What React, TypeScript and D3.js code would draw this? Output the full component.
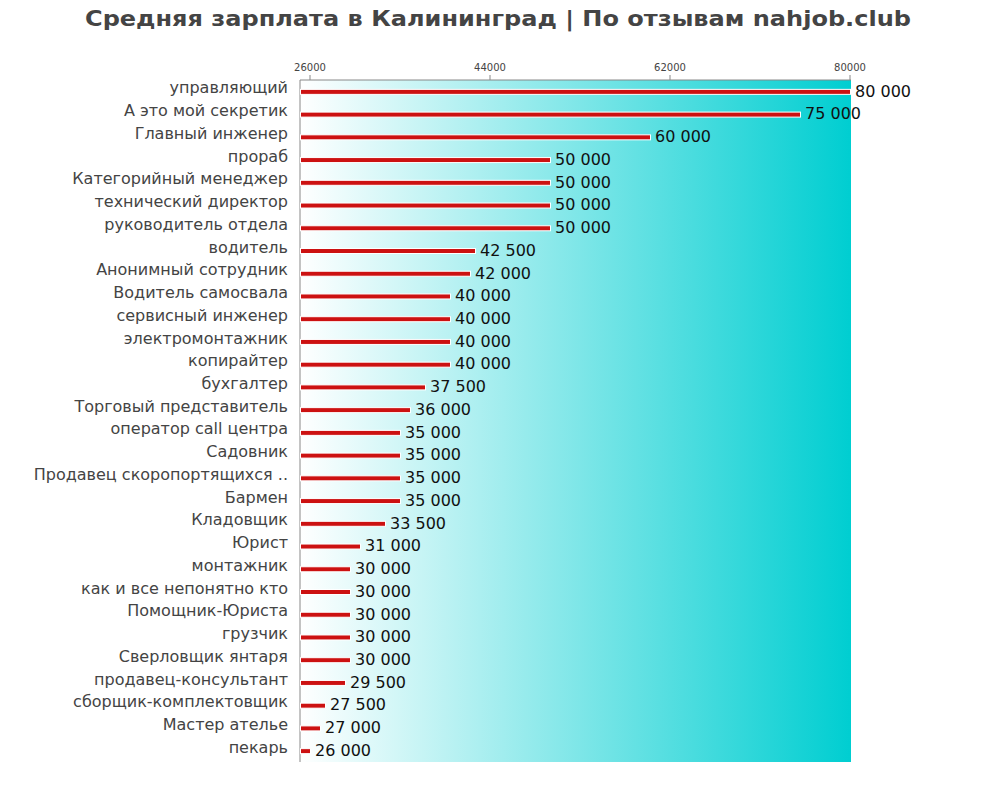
import React from "react";
import * as d3 from "d3";

const jobs = [
  "управляющий",
  "А это мой секретик",
  "Главный инженер",
  "прораб",
  "Категорийный менеджер",
  "технический директор",
  "руководитель отдела",
  "водитель",
  "Анонимный сотрудник",
  "Водитель самосвала",
  "сервисный инженер",
  "электромонтажник",
  "копирайтер",
  "бухгалтер",
  "Торговый представитель",
  "оператор call центра",
  "Садовник",
  "Продавец скоропортящихся ..",
  "Бармен",
  "Кладовщик",
  "Юрист",
  "монтажник",
  "как и все непонятно кто",
  "Помощник-Юриста",
  "грузчик",
  "Сверловщик янтаря",
  "продавец-консультант",
  "сборщик-комплектовщик",
  "Мастер ателье",
  "пекарь",
];

const salaries = [
  80000, 75000, 60000, 50000, 50000, 50000, 50000, 42500, 42000, 40000, 40000,
  40000, 40000, 37500, 36000, 35000, 35000, 35000, 35000, 33500, 31000, 30000,
  30000, 30000, 30000, 30000, 29500, 27500, 27000, 26000,
];

const xTicks = [26000, 44000, 62000, 80000];

const title = "Средняя зарплата в Калининград | По отзывам nahjob.club";

const W = 1000;
const H = 800;
const left = 300;
const right = 851;
const top = 80;
const bottom = 762;

const App = () => {
  const x = d3.scaleLinear().domain([25000, 80000]).range([left, 850]);
  const y = d3.scaleBand<string>().domain(jobs).range([top, bottom]);
  const fmt = (v: number) => d3.format(",")(v).replace(/,/g, " ");
  const font = "DejaVu Sans, sans-serif";

  return (
    <svg
      width={W}
      height={H}
      style={{ position: "absolute", left: 0, top: 0, background: "#fff" }}
    >
      <defs>
        <linearGradient id="bg" x1="0" x2="1" y1="0" y2="0">
          <stop offset="0%" stopColor="#ffffff" />
          <stop offset="100%" stopColor="#00ced1" />
        </linearGradient>
      </defs>

      <text
        x={498}
        y={26}
        textAnchor="middle"
        fontFamily={font}
        fontWeight="bold"
        fontSize={22}
        fill="#444"
        textLength={826}
        lengthAdjust="spacingAndGlyphs"
      >
        {title}
      </text>

      <rect x={left} y={top} width={right - left} height={bottom - top} fill="url(#bg)" />

      {/* top axis */}
      <line x1={left} x2={right} y1={top} y2={top} stroke="#888" />
      {xTicks.map((t) => (
        <g key={t}>
          <line x1={x(t)} x2={x(t)} y1={top - 5} y2={top} stroke="#888" />
          <text
            x={x(t)}
            y={top - 9}
            textAnchor="middle"
            fontFamily={font}
            fontSize={10}
            fill="#444"
          >
            {t}
          </text>
        </g>
      ))}
      <line x1={left} x2={left} y1={top} y2={bottom} stroke="#888" />

      {jobs.map((j, i) => {
        const cy = (y(j) as number) + y.bandwidth() / 2 + 0.5;
        const v = salaries[i];
        return (
          <g key={j}>
            <text
              x={288}
              y={cy}
              dy="0.1em"
              textAnchor="end"
              fontFamily={font}
              fontSize={16}
              fill="#444"
            >
              {j}
            </text>
            <rect
              x={left + 0.5}
              y={cy - 2.5}
              width={x(v) - left}
              height={5}
              fill="#cc1111"
              stroke="#fff"
              strokeWidth={1}
            />
            <text
              x={x(v) + 5}
              y={cy}
              dy="0.3em"
              fontFamily={font}
              fontSize={16}
              fill="#111"
            >
              {fmt(v)}
            </text>
          </g>
        );
      })}
    </svg>
  );
};

export default App;
